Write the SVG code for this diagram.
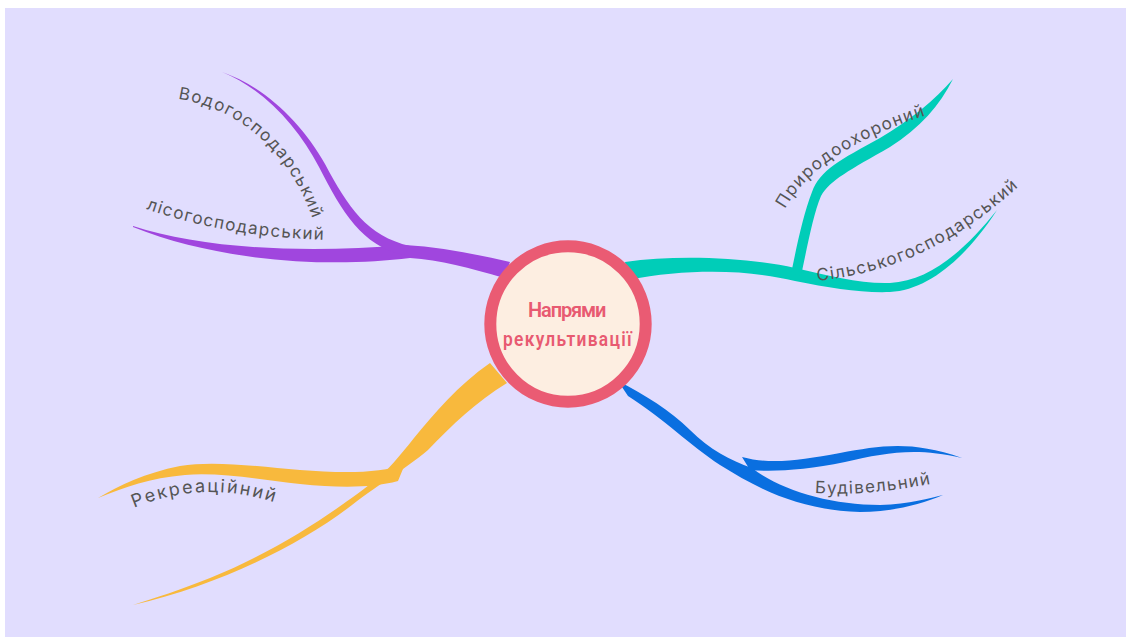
<svg xmlns="http://www.w3.org/2000/svg" width="1126" height="637" viewBox="0 0 1126 637">
<style>
.lbl{font-family:Inter,"Noto Sans","DejaVu Sans",sans-serif;font-size:17px;fill:#555;letter-spacing:1.3px}
.big{font-size:18px;letter-spacing:2px}
.ctr{font-family:Roboto,"Liberation Sans",sans-serif;font-size:20px;font-weight:600;fill:#E85A71;letter-spacing:1.5px}
.purple{fill:#A046DE}
.teal{fill:#00CDB8}
.yellow{fill:#F8B93D}
.blue{fill:#0A6FE0}
</style>
<defs>
<path id="p-vodo" d="M178,99 C232,107 292,145 318,235"/>
<path id="p-lis" d="M146,209 Q230,238 332,240"/>
<path id="p-pryr" d="M785,209 C808,167 858,137 930,114"/>
<path id="p-silsk" d="M817,281 C900,272 962,240 1030,176"/>
<path id="p-rekr" d="M134,508 Q210,476 290,508"/>
<path id="p-bud" d="M815,493 Q870,497 944,481"/>
</defs>
<rect x="0" y="0" width="1126" height="637" fill="#ffffff"/>
<rect x="5" y="8" width="1121" height="629" fill="#E1DDFE"/>
<g id="connectors">
<path class="purple" d="M133,226 C200,248 300,254 405,245 C440,247 475,254 510,262 L504,278 C470,268 440,260 410,258 C330,268 220,262 133,227 Z"/>
<path class="purple" d="M222,72 C265,87 302,123 325,164 C348,207 367,236 410,246 L404,255 C362,246 342,212 319,167 C298,127 264,89 222,72 Z"/>
<path class="teal" d="M625,262 C680,254 750,258 795,268 C830,276 860,284 890,283 C930,281 965,250 997,210 C968,255 930,290 890,292 C860,293 830,288 795,281 C750,270 690,268 628,280 Z"/>
<path class="teal" d="M791,274 C797,245 803,215 812,192 C820,170 840,160 880,138 C910,120 935,100 953,79 C940,105 920,128 890,147 C850,170 830,180 821,196 C813,215 807,248 801,276 Z"/>
<path class="yellow" d="M490,363 C458,385 434,414 414,438 C398,458 388,470 378,478 C340,508 280,550 210,578 C180,590 155,598 133,605 C220,585 300,545 352,505 C382,482 404,470 428,450 C452,425 476,402 507,383 Z"/>
<path class="yellow" d="M405,464 C380,474 340,473 300,470 C260,467 215,460 180,466 C145,473 120,485 98,498 C125,487 150,478 185,475 C220,472 262,480 300,484 C340,488 372,488 398,481 Z"/>
<path class="blue" d="M618,381 C645,395 670,410 690,430 C710,450 730,460 752,468 C780,490 830,505 880,505 C910,504 930,498 943,495 C920,505 890,512 860,512 C800,510 760,490 720,465 C690,445 665,420 628,396 Z"/>
<path class="blue" d="M742,457 C772,465 800,460 840,453 C880,446 910,440 962,458 C915,447 885,453 845,462 C805,470 775,472 750,470 Z"/>
</g>
<g id="center">
<circle cx="568" cy="324" r="77.7" fill="#FDEEE1" stroke="#EA5B73" stroke-width="12"/>
<text class="ctr" x="568" y="317" text-anchor="middle" textLength="80" lengthAdjust="spacing">Напрями</text>
<text class="ctr" x="568" y="346" text-anchor="middle" textLength="130" lengthAdjust="spacingAndGlyphs">рекультивації</text>
</g>
<g id="n-vodo"><text class="lbl"><textPath href="#p-vodo">Водогосподарський</textPath></text></g>
<g id="n-lis"><text class="lbl"><textPath href="#p-lis">лісогосподарський</textPath></text></g>
<g id="n-pryr"><text class="lbl"><textPath href="#p-pryr">Природоохороний</textPath></text></g>
<g id="n-silsk"><text class="lbl"><textPath href="#p-silsk">Сільськогосподарський</textPath></text></g>
<g id="n-rekr"><text class="lbl big"><textPath href="#p-rekr">Рекреаційний</textPath></text></g>
<g id="n-bud"><text class="lbl"><textPath href="#p-bud">Будівельний</textPath></text></g>
</svg>
